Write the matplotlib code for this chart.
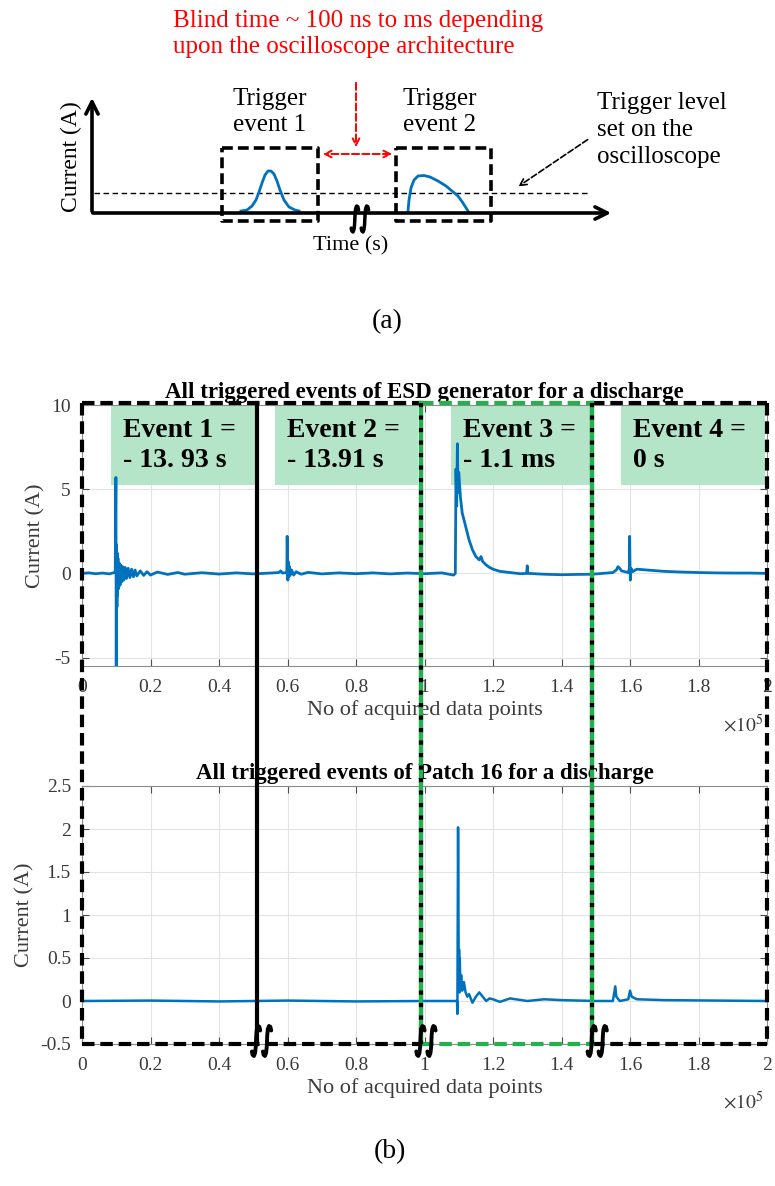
import numpy as np
import matplotlib
matplotlib.use("Agg")
import matplotlib.pyplot as plt
from matplotlib.patches import Rectangle
from matplotlib.ticker import FuncFormatter

plt.rcParams['font.family'] = ['Liberation Serif', 'DejaVu Serif']
plt.rcParams['mathtext.fontset'] = 'stix'

BLUE = '#0072BD'
GREEN_FILL = '#b5e5c9'
GREEN_LINE = '#22b14c'
AXGRAY = '#4d4d4d'
TXTGRAY = '#3a3a3a'

# ---- schematic (a), in pixel units of an overlay axes ----
pulse1_x = [241, 247, 252, 256, 259, 262, 265, 268, 271, 274, 277, 280, 284, 289, 295, 299]
pulse1_y = [211, 210, 206, 200, 192, 183, 175, 171, 171, 174, 181, 190, 200, 207, 210, 211]
pulse2_x = [408, 409, 411, 414, 418, 424, 430, 438, 446, 452, 458, 463, 468]
pulse2_y = [211, 200, 188, 180, 176, 175.5, 177, 181, 186, 191, 196, 203, 211]

# break mark outline (one "ʃ" stroke, unit box)
brk_u = [0.9, 0.7, 0.4, 0.15, 0.02, -0.04, -0.1, -0.25, -0.5, -0.8, -0.95]
brk_v = [-0.7, -0.95, -1.0, -0.8, -0.4, 0.0, 0.4, 0.8, 1.0, 0.92, 0.7]

# ---- ESD generator record (x in units of 1e5 samples) ----
esd_x = [0, 0.02, 0.04, 0.06, 0.08, 0.095, 0.097, 0.099, 0.100, 0.101, 0.102, 0.103,
         0.104, 0.105, 0.107, 0.109, 0.111, 0.113, 0.116, 0.119, 0.122, 0.126, 0.13,
         0.135, 0.14, 0.145, 0.15, 0.155, 0.16, 0.17, 0.18, 0.19, 0.2, 0.22, 0.25,
         0.28, 0.3, 0.35, 0.4, 0.45, 0.5, 0.55, 0.575, 0.58, 0.585, 0.598, 0.599,
         0.6, 0.601, 0.602, 0.604, 0.606, 0.608, 0.612, 0.618, 0.625, 0.64, 0.66,
         0.7, 0.75, 0.8, 0.85, 0.9, 0.95, 1.0, 1.05, 1.085, 1.09, 1.092, 1.094,
         1.096, 1.098, 1.1, 1.105, 1.11, 1.12, 1.13, 1.14, 1.15, 1.16, 1.165, 1.17,
         1.18, 1.19, 1.2, 1.22, 1.25, 1.28, 1.298, 1.3, 1.302, 1.35, 1.4, 1.45,
         1.49, 1.52, 1.55, 1.56, 1.565, 1.57, 1.575, 1.585, 1.595, 1.598, 1.599,
         1.6, 1.601, 1.603, 1.607, 1.62, 1.65, 1.7, 1.75, 1.8, 1.85, 1.9, 1.95, 2.0]
esd_y = [0, 0.03, -0.02, 0.02, -0.03, 0.05, 0.1, 5.7, -5.5, 1.7, -2.0, 1.2,
         -1.3, 0.9, -0.9, 0.6, -0.7, 0.5, -0.5, 0.4, -0.4, 0.35, -0.3,
         0.3, -0.25, 0.25, -0.2, 0.2, -0.15, 0.15, -0.12, 0.1, -0.1, 0.08, -0.06,
         0.05, -0.05, 0.04, -0.04, 0.03, -0.03, 0.02, 0.05, 0.15, 0.02, 0.05, 2.2,
         0.9, -0.4, 0.7, -0.2, 0.4, -0.1, 0.2, -0.1, 0.1, -0.05, 0.06,
         -0.03, 0.03, -0.02, 0.03, -0.03, 0.02, -0.02, 0.03, -0.1, 0.0, 6.2, 4.0,
         7.7, 4.8, 6.0, 4.5, 3.6, 2.8, 2.0, 1.4, 1.0, 0.8, 1.0, 0.7,
         0.5, 0.35, 0.25, 0.12, 0.05, -0.02, 0.0, 0.45, 0.0, -0.05, -0.08, -0.06,
         -0.05, 0.0, 0.05, 0.2, 0.4, 0.3, 0.15, 0.1, 0.05, 0.3, 2.2,
         0.5, -0.4, 0.3, 0.1, 0.25, 0.2, 0.12, 0.08, 0.05, 0.03, 0.02, 0.02, 0.0]

# ---- Patch 16 record ----
patch_x = [0, 0.2, 0.4, 0.6, 0.8, 1.0, 1.095, 1.096, 1.098, 1.1, 1.101, 1.102,
           1.103, 1.105, 1.107, 1.11, 1.115, 1.12, 1.125, 1.13, 1.14, 1.15, 1.16,
           1.17, 1.18, 1.19, 1.2, 1.22, 1.25, 1.3, 1.35, 1.4, 1.5, 1.55, 1.557,
           1.56, 1.57, 1.595, 1.6, 1.605, 1.62, 1.7, 2.0]
patch_y = [0, 0.005, -0.005, 0.005, -0.005, 0.0, 0.0, -0.15, 2.02, 0.3, 0.6, 0.1,
           0.5, 0.15, 0.3, 0.12, 0.22, 0.1, 0.05, 0.08, -0.02, 0.05, 0.1,
           0.05, 0.0, 0.03, 0.02, -0.01, 0.03, 0.0, 0.02, 0.01, 0.0, 0.0, 0.17,
           0.05, 0.0, 0.02, 0.12, 0.05, 0.02, 0.01, 0.0]

# event windows
event_x0 = [0.085, 0.564, 1.076, 1.574]
event_x1 = [0.508, 0.981, 1.488, 1.995]
event_labels = ['Event 1 =\n- 13. 93 s', 'Event 2 =\n- 13.91 s',
                'Event 3 =\n- 1.1 ms', 'Event 4 =\n0 s']
event_edges = [0, 0.51, 0.99, 1.49, 2.0]

W, H = 775, 1186
fig = plt.figure(figsize=(W / 100, H / 100), dpi=100)

ax1 = fig.add_axes([82 / W, 1 - 666 / H, 685 / W, 261 / H])
ax2 = fig.add_axes([82 / W, 1 - 1044 / H, 685 / W, 258 / H])

fmt = FuncFormatter(lambda v, p: f'{v:g}')
for ax in (ax1, ax2):
    ax.set_xlim(0, 2)
    ax.set_xticks(np.arange(0, 2.01, 0.2))
    ax.xaxis.set_major_formatter(fmt)
    ax.yaxis.set_major_formatter(fmt)
    ax.grid(True, color='#e3e3e3', lw=0.8)
    ax.set_axisbelow(True)
    ax.tick_params(direction='in', top=True, right=True, length=5,
                   colors=AXGRAY, labelsize=14, labelcolor=TXTGRAY)
    ax.tick_params(axis='x', pad=9)
    ax.tick_params(axis='y', pad=8)
    for s in ax.spines.values():
        s.set_color('#8c8c8c')
        s.set_linewidth(0.8)
    ax.set_xlabel('No of acquired data points', fontsize=16, color=TXTGRAY, labelpad=3)
    ax.set_ylabel('Current (A)', fontsize=16, color=TXTGRAY, labelpad=4)
    ax.text(0.995, -0.225, r'$\times10^5$', transform=ax.transAxes, ha='right',
            va='center', fontsize=14, color=TXTGRAY)

ax1.set_ylim(-5.5, 10)
ax1.set_yticks([-5, 0, 5, 10])
ax1.plot(esd_x, esd_y, color=BLUE, lw=2, zorder=4)
ax1.set_title('All triggered events of ESD generator for a discharge',
              fontsize=16.5, fontweight='bold', pad=5)
for x0, x1, lab in zip(event_x0, event_x1, event_labels):
    ax1.add_patch(Rectangle((x0, 5.24), x1 - x0, 10 - 5.24, facecolor=GREEN_FILL,
                            edgecolor='none', zorder=1.5))
    ax1.text(x0 + 0.035, 7.6, lab, fontsize=20, fontweight='bold', ha='left',
             va='center', linespacing=1.25, zorder=3)

ax2.set_ylim(-0.5, 2.5)
ax2.set_yticks(np.arange(-0.5, 2.51, 0.5))
ax2.plot(patch_x, patch_y, color=BLUE, lw=1.8, zorder=4)
ax2.set_title('All triggered events of Patch 16 for a discharge',
              fontsize=16.5, fontweight='bold', pad=5)

# overlay in pixel units for the frames and the schematic
ov = fig.add_axes([0, 0, 1, 1], zorder=10)
ov.set_xlim(0, W)
ov.set_ylim(H, 0)
ov.axis('off')
ov.patch.set_alpha(0)

fig.canvas.draw()


def to_px(ax, x, y):
    d = ax.transData.transform((x, y))
    return ov.transData.inverted().transform(d)


def squiggle(cx, cy, h=30, a=4.5, gap=11, lw=2.8):
    u = np.array(brk_u)
    v = np.array(brk_v)
    for dx in (-gap / 2, gap / 2):
        ov.plot(cx + dx + a * u, cy + h / 2 * v, color='k', lw=lw,
                solid_capstyle='round', solid_joinstyle='round', zorder=12)


dash = (3, 1.4)
top = to_px(ax1, 0, 10)[1] - 2
bot = to_px(ax2, 0, -0.5)[1]
ex = [to_px(ax1, e, 0)[0] for e in event_edges]

# black dashed outer frame and the green window for event 3
ov.plot([ex[0], ex[2]], [top, top], color='k', lw=3, dashes=dash)
ov.plot([ex[0], ex[2]], [bot, bot], color='k', lw=3, dashes=dash)
ov.plot([ex[3], ex[4]], [top, top], color='k', lw=3, dashes=dash)
ov.plot([ex[3], ex[4]], [bot, bot], color='k', lw=3, dashes=dash)
ov.plot([ex[2], ex[3]], [top, top], color=GREEN_LINE, lw=3, dashes=dash)
ov.plot([ex[2], ex[3]], [bot, bot], color=GREEN_LINE, lw=3, dashes=dash)
ov.plot([ex[0], ex[0]], [top, bot], color='k', lw=3, dashes=dash)
ov.plot([ex[4], ex[4]], [top, bot], color='k', lw=3, dashes=dash)
ov.plot([ex[1], ex[1]], [top, bot], color='k', lw=3)
for e in (ex[2], ex[3]):
    ov.plot([e, e], [top, bot], color=GREEN_LINE, lw=3.2)
    ov.plot([e, e], [top, bot], color='k', lw=3, dashes=(1, 2))
for e in ex[1:4]:
    squiggle(e + 5, bot - 3)

# schematic axes arrows
ov.annotate('', xy=(92, 95), xytext=(92, 214),
            arrowprops=dict(arrowstyle='->', lw=2.6, color='k', mutation_scale=22))
ov.annotate('', xy=(614, 213), xytext=(90, 213),
            arrowprops=dict(arrowstyle='->', lw=2.6, color='k', mutation_scale=22))
ov.plot([94, 590], [193, 193], color='k', lw=1, dashes=(4, 2.5))
for x0, x1 in ((222, 318), (396, 491)):
    ov.plot([x0, x1, x1, x0, x0], [148, 148, 221, 221, 148], color='k', lw=2.6,
            dashes=(3, 1.4))
ov.plot(pulse1_x, pulse1_y, color=BLUE, lw=2)
ov.plot(pulse2_x, pulse2_y, color=BLUE, lw=2)
squiggle(360, 219, h=26, a=4, gap=10, lw=2.5)

ov.annotate('', xy=(320, 154), xytext=(395, 154),
            arrowprops=dict(arrowstyle='<->', lw=1.4, color='red', linestyle='--',
                            mutation_scale=12))
ov.annotate('', xy=(356, 150), xytext=(356, 80),
            arrowprops=dict(arrowstyle='->', lw=1.4, color='red', linestyle='--',
                            mutation_scale=12))
ov.annotate('', xy=(516, 188), xytext=(590, 138),
            arrowprops=dict(arrowstyle='->', lw=1.2, color='k', linestyle='--',
                            mutation_scale=12))

ov.text(173, 34, 'Blind time ~ 100 ns to ms depending\nupon the oscilloscope architecture',
        color='red', fontsize=18, ha='left', va='center', linespacing=1.25)
ov.text(270, 112, 'Trigger\nevent 1', fontsize=18, ha='center', va='center',
        linespacing=1.25)
ov.text(440, 112, 'Trigger\nevent 2', fontsize=18, ha='center', va='center',
        linespacing=1.25)
ov.text(597, 130, 'Trigger level\nset on the\noscilloscope', fontsize=18,
        ha='left', va='center', linespacing=1.3)
ov.text(71, 157, 'Current (A)', fontsize=17, rotation=90, ha='center', va='center')
ov.text(351, 246, 'Time (s)', fontsize=16, ha='center', va='center')
ov.text(387, 322, '(a)', fontsize=20, ha='center', va='center')
ov.text(390, 1152, '(b)', fontsize=20, ha='center', va='center')

fig.savefig('out.png', dpi=100)
